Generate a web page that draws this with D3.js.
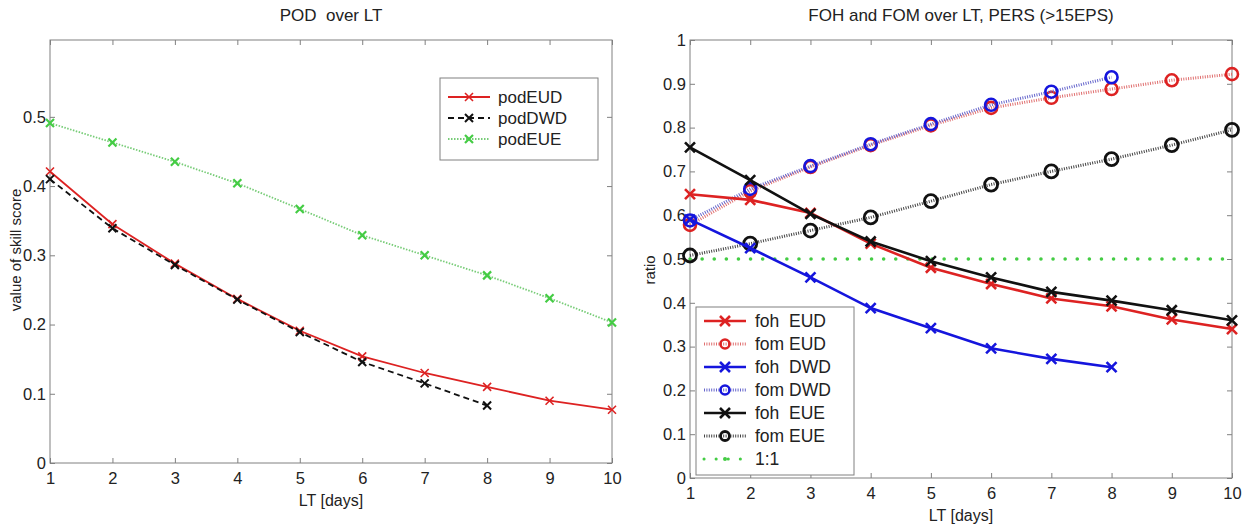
<!DOCTYPE html>
<html>
<head>
<meta charset="utf-8">
<script src="https://cdn.jsdelivr.net/npm/d3@7"></script>
<style>
  body { margin: 0; background: #fff; }
  svg { font-family: "Liberation Sans", Arial, sans-serif; }
</style>
</head>
<body>
<svg id="chart" width="1258" height="526"></svg>
<script>
// lead times (days)
const lt = [1, 2, 3, 4, 5, 6, 7, 8, 9, 10];

// left panel: POD
const podEUD = [0.421, 0.345, 0.288, 0.237, 0.191, 0.154, 0.130, 0.110, 0.090, 0.077];
const podDWD = [0.410, 0.339, 0.286, 0.236, 0.189, 0.146, 0.115, 0.083];
const podEUE = [0.491, 0.463, 0.435, 0.404, 0.367, 0.329, 0.300, 0.271, 0.238, 0.203];

// right panel: FOH / FOM
const fohEUD = [0.648, 0.635, 0.605, 0.535, 0.480, 0.443, 0.410, 0.392, 0.362, 0.340];
const fomEUD = [0.578, 0.655, 0.710, 0.760, 0.805, 0.845, 0.868, 0.888, 0.908, 0.922];
const fohDWD = [0.590, 0.525, 0.458, 0.388, 0.342, 0.296, 0.272, 0.253];
const fomDWD = [0.588, 0.660, 0.712, 0.762, 0.808, 0.852, 0.882, 0.915];
const fohEUE = [0.755, 0.680, 0.603, 0.540, 0.495, 0.458, 0.425, 0.405, 0.383, 0.360];
const fomEUE = [0.508, 0.535, 0.565, 0.595, 0.632, 0.670, 0.700, 0.728, 0.760, 0.795];
const ratio11 = [0.5, 0.5];

const leftYTicks = [0, 0.1, 0.2, 0.3, 0.4, 0.5];
const rightYTicks = [0, 0.1, 0.2, 0.3, 0.4, 0.5, 0.6, 0.7, 0.8, 0.9, 1];

const svg = d3.select('#chart');
const axisColor = '#808080';
const tickFont = 16.5;

function drawFrame(g, x, y, yTicks, yFmt) {
    const [x0, x1] = x.range();
    const [y0, y1] = y.range();
    // box
    g.append('rect')
        .attr('x', x0).attr('y', y1)
        .attr('width', x1 - x0).attr('height', y0 - y1)
        .attr('fill', 'none').attr('stroke', axisColor).attr('stroke-width', 1);

    // inner ticks on all four sides
    const tl = 5;
    g.append('g').attr('transform', `translate(0,${y0})`)
        .call(d3.axisBottom(x).tickValues(lt).tickSize(-tl).tickPadding(9).tickFormat(d3.format('d')))
        .call(a => a.select('.domain').remove())
        .call(a => a.selectAll('line').attr('stroke', axisColor));
    g.append('g').attr('transform', `translate(0,${y1})`)
        .call(d3.axisTop(x).tickValues(lt).tickSize(-tl).tickFormat(''))
        .call(a => a.select('.domain').remove())
        .call(a => a.selectAll('line').attr('stroke', axisColor));
    g.append('g').attr('transform', `translate(${x0},0)`)
        .call(d3.axisLeft(y).tickValues(yTicks).tickSize(-tl).tickPadding(4).tickFormat(yFmt))
        .call(a => a.select('.domain').remove())
        .call(a => a.selectAll('line').attr('stroke', axisColor));
    g.append('g').attr('transform', `translate(${x1},0)`)
        .call(d3.axisRight(y).tickValues(yTicks).tickSize(-tl).tickFormat(''))
        .call(a => a.select('.domain').remove())
        .call(a => a.selectAll('line').attr('stroke', axisColor));
    g.selectAll('g.tick text').style('font-size', tickFont + 'px').attr('fill', '#222')
        .style('font-family', '"Liberation Sans", Arial, sans-serif');
}

const yFmt = d => d === 0 ? '0' : (d === 1 ? '1' : d3.format('.1f')(d));

function crossMarker(g, cx, cy, s, color, w) {
    g.append('path')
        .attr('d', `M${cx - s},${cy - s}L${cx + s},${cy + s}M${cx - s},${cy + s}L${cx + s},${cy - s}`)
        .attr('stroke', color).attr('stroke-width', w).attr('fill', 'none');
}

function series(g, x, y, vals, opt) {
    const pts = vals.map((v, i) => [x(lt[i]), y(v)]);
    g.append('path')
        .attr('d', d3.line()(pts))
        .attr('fill', 'none')
        .attr('stroke', opt.color)
        .attr('stroke-width', opt.width)
        .attr('stroke-dasharray', opt.dash || null)
        .attr('stroke-linecap', opt.cap || 'butt');
    pts.forEach(([px, py]) => {
        if (opt.marker === 'x') crossMarker(g, px, py, opt.ms, opt.mcolor || opt.color, opt.mw);
        if (opt.marker === 'o') g.append('circle').attr('cx', px).attr('cy', py).attr('r', opt.ms)
            .attr('fill', 'none').attr('stroke', opt.mcolor || opt.color).attr('stroke-width', opt.mw);
    });
}

function legendSample(g, lx, ly, opt) {
    g.append('line').attr('x1', lx).attr('x2', lx + 42).attr('y1', ly).attr('y2', ly)
        .attr('stroke', opt.color).attr('stroke-width', opt.width)
        .attr('stroke-dasharray', opt.dash || null).attr('stroke-linecap', opt.cap || 'butt');
    const cx = lx + 21;
    if (opt.marker === 'x') crossMarker(g, cx, ly, opt.ms, opt.mcolor || opt.color, opt.mw);
    if (opt.marker === 'o') g.append('circle').attr('cx', cx).attr('cy', ly).attr('r', opt.ms)
        .attr('fill', 'none').attr('stroke', opt.mcolor || opt.color).attr('stroke-width', opt.mw);
    if (opt.marker === '.') g.append('circle').attr('cx', cx).attr('cy', ly).attr('r', 2).attr('fill', opt.color);
}

// ---------- left panel ----------
const xL = d3.scaleLinear().domain([1, 10]).range([50, 612]);
const yL = d3.scaleLinear().domain([0, 0.611]).range([463, 40]);
const gL = svg.append('g');
drawFrame(gL, xL, yL, leftYTicks, yFmt);

const red = '#dd2222', green = '#44cc44';
const styleEUD = { color: red, width: 1.8, marker: 'x', ms: 4, mw: 1.6 };
const styleDWD = { color: '#111', width: 1.8, dash: '6,4', marker: 'x', ms: 4, mw: 2 };
const styleEUE = { color: '#77cc77', width: 1.8, dash: '1.5,1.5', marker: 'x', ms: 4, mw: 2.2, mcolor: green };

series(gL, xL, yL, podEUE, styleEUE);
series(gL, xL, yL, podEUD, styleEUD);
series(gL, xL, yL, podDWD, styleDWD);

gL.append('text').attr('x', 331).attr('y', 21).attr('text-anchor', 'middle')
    .attr('font-size', 17).attr('fill', '#222').attr('xml:space', 'preserve').text('POD  over LT');
gL.append('text').attr('x', 331).attr('y', 506).attr('text-anchor', 'middle')
    .attr('font-size', 16).attr('fill', '#222').text('LT [days]');
gL.append('text').attr('transform', 'translate(21,250) rotate(-90)').attr('text-anchor', 'middle')
    .attr('font-size', 15).attr('fill', '#222').text('value of skill score');

const legL = gL.append('g');
legL.append('rect').attr('x', 440).attr('y', 78).attr('width', 158).attr('height', 82)
    .attr('fill', '#fff').attr('stroke', axisColor);
[['podEUD', styleEUD], ['podDWD', styleDWD], ['podEUE', styleEUE]].forEach(([name, st], i) => {
    const ly = 97 + i * 21;
    legendSample(legL, 448, ly, st);
    legL.append('text').attr('x', 498).attr('y', ly + 6).attr('font-size', 17).attr('fill', '#222').text(name);
});

// ---------- right panel ----------
const xR = d3.scaleLinear().domain([1, 10]).range([690, 1232]);
const yR = d3.scaleLinear().domain([0, 1]).range([478, 40]);
const gR = svg.append('g');
drawFrame(gR, xR, yR, rightYTicks, yFmt);

const blue = '#1515dd';
const sFohEUD = { color: red, width: 2.6, marker: 'x', ms: 5, mw: 2.6 };
const sFomEUD = { color: '#e07070', width: 3, dash: '1,1.4', marker: 'o', ms: 6, mw: 2.6, mcolor: red };
const sFohDWD = { color: blue, width: 2.6, marker: 'x', ms: 5, mw: 2.6 };
const sFomDWD = { color: '#6666cc', width: 3, dash: '1,1.4', marker: 'o', ms: 6, mw: 2.6, mcolor: blue };
const sFohEUE = { color: '#111', width: 2.6, marker: 'x', ms: 5, mw: 2.6 };
const sFomEUE = { color: '#444', width: 3, dash: '1,1.4', marker: 'o', ms: 6.5, mw: 2.8, mcolor: '#111' };
const s11 = { color: '#44cc44', width: 3, dash: '0.1,12', cap: 'round', marker: '.' };

gR.append('path')
    .attr('d', d3.line()([[xR(lt[0]), yR(ratio11[0])], [xR(lt[lt.length - 1]), yR(ratio11[1])]]))
    .attr('stroke', s11.color).attr('stroke-width', 3.5).attr('stroke-dasharray', s11.dash)
    .attr('stroke-linecap', 'round').attr('fill', 'none');

series(gR, xR, yR, fomEUE, sFomEUE);
series(gR, xR, yR, fomEUD, sFomEUD);
series(gR, xR, yR, fomDWD, sFomDWD);
series(gR, xR, yR, fohDWD, sFohDWD);
series(gR, xR, yR, fohEUD, sFohEUD);
series(gR, xR, yR, fohEUE, sFohEUE);

gR.append('text').attr('x', 961).attr('y', 21).attr('text-anchor', 'middle')
    .attr('font-size', 17).attr('fill', '#222').text('FOH and FOM over LT, PERS (>15EPS)');
gR.append('text').attr('x', 961).attr('y', 521).attr('text-anchor', 'middle')
    .attr('font-size', 16).attr('fill', '#222').text('LT [days]');
gR.append('text').attr('transform', 'translate(655,270) rotate(-90)').attr('text-anchor', 'middle')
    .attr('font-size', 15).attr('fill', '#222').text('ratio');

const legR = gR.append('g');
legR.append('rect').attr('x', 696).attr('y', 307).attr('width', 158).attr('height', 168)
    .attr('fill', '#fff').attr('stroke', axisColor);
const legItems = [
    ['foh  EUD', sFohEUD], ['fom EUD', sFomEUD], ['foh  DWD', sFohDWD], ['fom DWD', sFomDWD],
    ['foh  EUE', sFohEUE], ['fom EUE', sFomEUE], ['1:1', s11]
];
legItems.forEach(([name, st], i) => {
    const ly = 321 + i * 23;
    legendSample(legR, 704, ly, Object.assign({}, st, st.marker === 'o' ? { ms: 4.5 } : {}));
    legR.append('text').attr('x', 755).attr('y', ly + 6).attr('font-size', 17.5).attr('fill', '#222')
        .attr('xml:space', 'preserve').text(name);
});
</script>
</body>
</html>
